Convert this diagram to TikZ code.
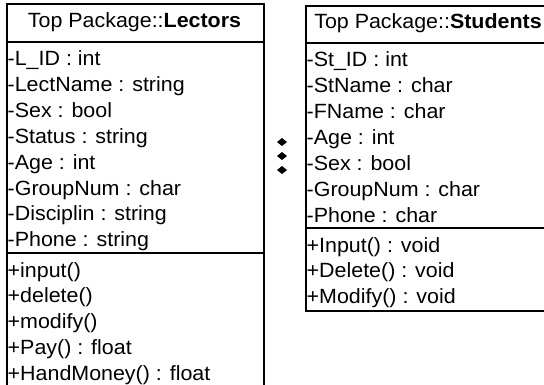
\documentclass[tikz,border=0pt]{standalone}
\usepackage{fontspec}
\setmainfont{Liberation Sans}[FakeStretch=1.04]
\begin{document}
\begin{tikzpicture}[x=1pt,y=-1pt,
  box/.style={draw=black, line width=1.6pt, inner sep=0pt, anchor=north west},
  sep/.style={draw=black, line width=1.6pt},
  attr/.style={anchor=base west, inner sep=0pt, font=\fontsize{20.6}{24}\selectfont},
  head/.style={anchor=center, inner sep=0pt, font=\fontsize{20.6}{24}\selectfont},
  dot/.style={fill=black}]
\useasboundingbox (0,0) rectangle (544,384);
\clip (0,0) rectangle (544,384);
\fill[white] (0,0) rectangle (544,384);
% Lectors
\node[box, minimum width=257pt, minimum height=410pt] (lect) at (6,3) {};
\draw[sep] (6,42) -- (263,42);
\draw[sep] (6,253) -- (263,253);
\node[head] (lh) at (134.5,22.5) {Top Package::\textbf{Lectors}};
\foreach \t [count=\i from 0] in {-L\_ID : int, -LectName : string, -Sex : bool, -Status : string, -Age : int, -GroupNum : char, -Disciplin : string, -Phone : string}
  \node[attr] (la\i) at (7.5,65.5+25.9*\i) {\t};
\foreach \t [count=\i from 0] in {+input(), +delete(), +modify(), +Pay() : float, +HandMoney() : float}
  \node[attr] (lm\i) at (7.5,277+25.9*\i) {\t};
% Students
\node[box, minimum width=246pt, minimum height=305pt] (stud) at (305,5) {};
\draw[sep] (305,43) -- (551,43);
\draw[sep] (305,228) -- (551,228);
\node[head] (sh) at (428,23.5) {Top Package::\textbf{Students}};
\foreach \t [count=\i from 0] in {-St\_ID : int, -StName : char, -FName : char, -Age : int, -Sex : bool, -GroupNum : char, -Phone : char}
  \node[attr] (sa\i) at (306.5,66.7+25.9*\i) {\t};
\foreach \t [count=\i from 0] in {+Input() : void, +Delete() : void, +Modify() : void}
  \node[attr] (sm\i) at (306.5,252+25.9*\i) {\t};
% diamonds
\foreach \y in {142,156,170}
  \fill[dot] (282,\y-4) -- (287,\y) -- (282,\y+4) -- (277,\y) -- cycle;
\end{tikzpicture}
\end{document}
